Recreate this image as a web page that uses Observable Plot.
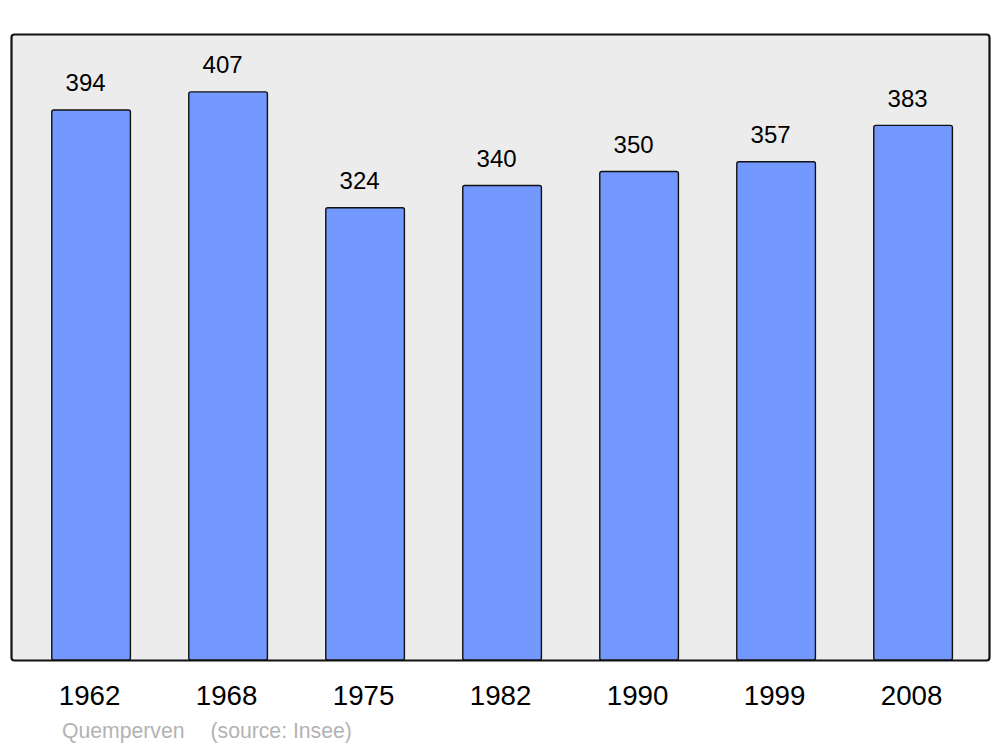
<!DOCTYPE html>
<html>
<head>
<meta charset="utf-8">
<script src="https://cdn.jsdelivr.net/npm/d3@7"></script>
<script src="https://cdn.jsdelivr.net/npm/@observablehq/plot@0.6"></script>
<style>
  html, body { margin: 0; padding: 0; background: #fff; }
  #wrap { position: relative; width: 1000px; height: 747px; font-family: "Liberation Sans", Arial, sans-serif; }
  #caption { position: absolute; left: 62px; top: 720px; font-size: 21.2px; color: #b3b3b3; white-space: pre; line-height: 1; }
  #caption .src { margin-left: 26px; }
</style>
</head>
<body>
<div id="wrap"></div>
<script>
const years = ["1962", "1968", "1975", "1982", "1990", "1999", "2008"];
const population = [394, 407, 324, 340, 350, 357, 383];
const commune = "Quemperven";
const source = "(source: Insee)";

const data = years.map((y, i) => ({year: y, value: population[i]}));

const chart = Plot.plot({
  width: 1000,
  height: 712,
  marginTop: 34,
  marginBottom: 52,
  marginLeft: 11,
  marginRight: 11,
  style: {fontFamily: "'Liberation Sans', Arial, sans-serif", background: "transparent"},
  x: {domain: years, range: [22.6, 981.6], paddingInner: 0.426, paddingOuter: 0.213, round: false, axis: null},
  y: {domain: [0, 448.5], axis: null},
  marks: [
    Plot.frame({fill: "#ececec", stroke: "#111", strokeWidth: 2.2, rx: 3}),
    Plot.barY(data, {x: "year", y: "value", fill: "#7399ff", stroke: "#111", strokeWidth: 1.4, rx: 2}),
    Plot.text(data, {x: "year", y: "value", text: d => String(d.value), lineAnchor: "bottom", dy: -19.3, dx: -6, fontSize: 24, fill: "#000"}),
    Plot.text(data, {x: "year", text: "year", frameAnchor: "bottom", lineAnchor: "bottom", dy: 44.5, dx: -2, fontSize: 27.7, fill: "#000"})
  ]
});

const wrap = document.getElementById("wrap");
wrap.appendChild(chart);
const cap = document.createElement("div");
cap.id = "caption";
const s1 = document.createElement("span");
s1.textContent = commune;
const s2 = document.createElement("span");
s2.className = "src";
s2.textContent = source;
cap.appendChild(s1);
cap.appendChild(s2);
wrap.appendChild(cap);
</script>
</body>
</html>
